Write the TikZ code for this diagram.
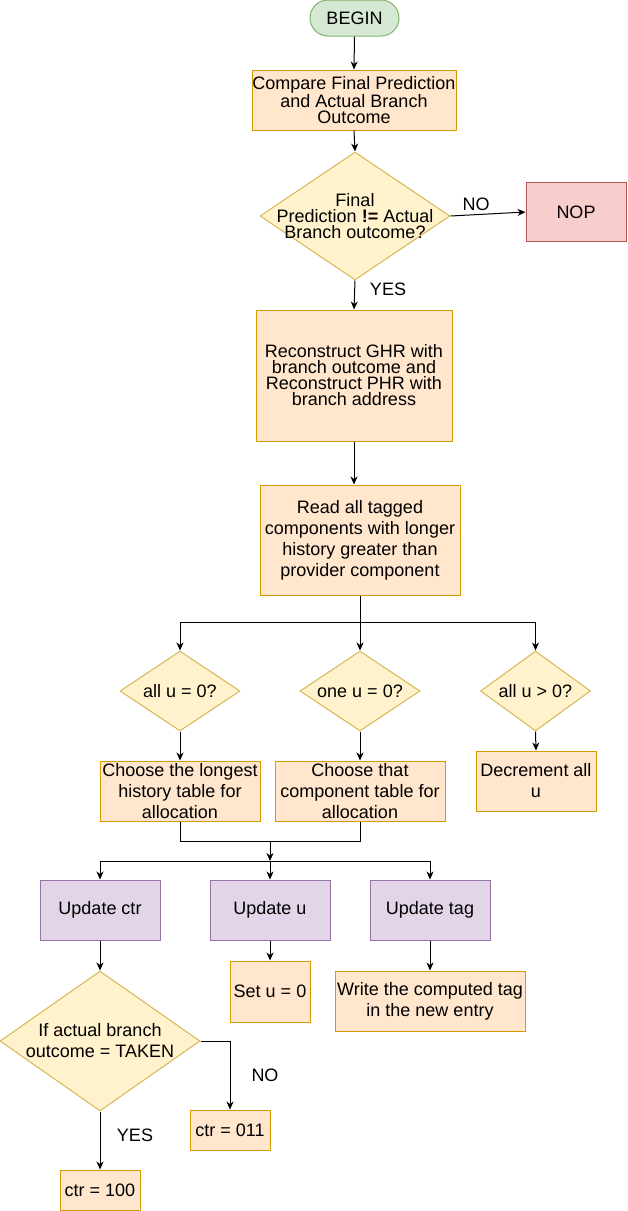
\documentclass[tikz,border=0pt]{standalone}
\usepackage{fontspec}
\setmainfont{Liberation Sans}
\usetikzlibrary{shapes.geometric,arrows.meta}
\definecolor{orfill}{HTML}{FFE6CC}\definecolor{orstroke}{HTML}{D79B00}
\definecolor{yfill}{HTML}{FFF2CC}\definecolor{ystroke}{HTML}{D6B656}
\definecolor{gfill}{HTML}{D5E8D4}\definecolor{gstroke}{HTML}{82B366}
\definecolor{rfill}{HTML}{F8CECC}\definecolor{rstroke}{HTML}{B85450}
\definecolor{pfill}{HTML}{E1D5E7}\definecolor{pstroke}{HTML}{9673A6}
\newcommand\ftA{\fontsize{18}{16}\selectfont}
\newcommand\ftB{\fontsize{18}{21}\selectfont}
\tikzset{
  base/.style={line width=1pt, inner sep=0pt, align=center, font=\ftB},
  obox/.style={base, draw=orstroke, fill=orfill},
  pbox/.style={base, draw=pstroke, fill=pfill},
  dia/.style={diamond, draw=ystroke, fill=yfill, line width=1pt, inner sep=0pt},
  txt/.style={inner sep=0pt, align=center, font=\ftB},
  arr/.style={line width=1pt, -{Stealth[length=8pt,width=7pt,inset=2.5pt]}},
  ln/.style={line width=1pt}
}
\begin{document}
\begin{tikzpicture}[x=1pt,y=-1pt]
\useasboundingbox (0,0) rectangle (627,1211);
\node[base, draw=gstroke, fill=gfill, rounded corners=18pt, minimum width=89pt, minimum height=36pt] (begin) at (354.5,18) {BEGIN};
\node[obox, font=\ftA, minimum width=204pt, minimum height=60pt] (cmp) at (354,100) {Compare Final Prediction\\and Actual Branch\\Outcome};
\node[dia, minimum width=190pt, minimum height=128pt] (d1) at (355,216) {};
\node[txt, font=\ftA] (d1t) at (355,216) {Final\\Prediction \textbf{!=} Actual\\Branch outcome?};
\node[base, draw=rstroke, fill=rfill, minimum width=100pt, minimum height=59pt] (nop) at (576,212) {NOP};
\node[obox, font=\ftA, minimum width=196pt, minimum height=131pt] (rec) at (354,375.5) {Reconstruct GHR with\\branch outcome and\\Reconstruct PHR with\\branch address};
\node[obox, minimum width=200pt, minimum height=110pt] (read) at (360,540) {Read all tagged\\components with longer\\history greater than\\provider component};
\node[dia, minimum width=120pt, minimum height=80pt] (da) at (180,691) {};
\node[txt] (dat) at (180,691) {all u = 0?};
\node[dia, minimum width=120pt, minimum height=80pt] (db) at (360,691) {};
\node[txt] (dbt) at (360,691) {one u = 0?};
\node[dia, minimum width=110pt, minimum height=80pt] (dc) at (535.5,691) {};
\node[txt] (dct) at (535.5,691) {all u > 0?};
\node[obox, minimum width=160pt, minimum height=60pt] (ba) at (180,791) {Choose the longest\\history table for\\allocation};
\node[obox, minimum width=170pt, minimum height=60pt] (bb) at (360,791) {Choose that\\component table for\\allocation};
\node[obox, minimum width=120pt, minimum height=60pt] (bc) at (536,781) {Decrement all\\u};
\node[pbox, minimum width=120pt, minimum height=60pt] (uc) at (100,910) {Update ctr};
\node[pbox, minimum width=120pt, minimum height=60pt] (uu) at (270,910) {Update u};
\node[pbox, minimum width=120pt, minimum height=60pt] (ut) at (430,910) {Update tag};
\node[dia, minimum width=200pt, minimum height=140pt] (d4) at (100,1041) {};
\node[txt] (d4t) at (100,1041) {If actual branch\\outcome = TAKEN};
\node[obox, minimum width=80pt, minimum height=61pt] (su) at (270,991.5) {Set u = 0};
\node[obox, minimum width=190pt, minimum height=60pt] (wt) at (430,1001) {Write the computed tag\\in the new entry};
\node[obox, minimum width=80pt, minimum height=40pt] (c011) at (230,1130) {ctr = 011};
\node[obox, minimum width=80pt, minimum height=40pt] (c100) at (100,1190) {ctr = 100};
% labels
\node[txt] (lno1) at (476,204) {NO};
\node[txt] (lyes1) at (388,289) {YES};
\node[txt] (lno2) at (265,1075) {NO};
\node[txt] (lyes2) at (135,1135) {YES};
% coordinates
\coordinate (j1) at (360,622);
\coordinate (j2) at (270,841);
\coordinate (j3) at (270,861);
% connectors
\draw[arr] (begin.south) -- (cmp.north);
\draw[arr] (cmp.south) -- (d1.north);
\draw[arr] (d1.east) -- (nop.west);
\draw[arr] (d1.south) -- (rec.north);
\draw[arr] (rec.south) -- (rec.south |- read.north);
\draw[ln] (read.south) -- (j1);
\draw[arr] (j1) -| (da.north);
\draw[arr] (j1) -- (db.north);
\draw[arr] (j1) -| (dc.north);
\draw[arr] (da.south) -- (ba.north);
\draw[arr] (db.south) -- (bb.north);
\draw[arr] (dc.south) -- (bc.north);
\draw[ln] (ba.south) |- (j2) -| (bb.south);
\draw[arr] (j2) -- (j3);
\draw[arr] (j3) -| (uc.north);
\draw[arr] (j3) -- (uu.north);
\draw[arr] (j3) -| (ut.north);
\draw[arr] (uc.south) -- (d4.north);
\draw[arr] (uu.south) -- (su.north);
\draw[arr] (ut.south) -- (wt.north);
\draw[arr] (d4.east) -| (c011.north);
\draw[arr] (d4.south) -- (c100.north);
\end{tikzpicture}
\end{document}
